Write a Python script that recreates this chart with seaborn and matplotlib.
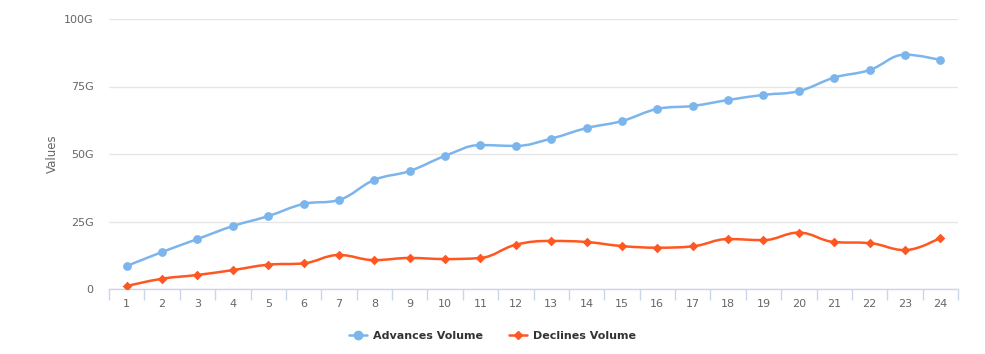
import numpy as np
import pandas as pd
import matplotlib
matplotlib.use("Agg")
import matplotlib.pyplot as plt
import seaborn as sns
from matplotlib.path import Path as MPath
from matplotlib.patches import PathPatch
from matplotlib.lines import Line2D
from matplotlib.ticker import FuncFormatter, FixedLocator

# === data (values in billions) ===
categories = [str(i) for i in range(1, 25)]
advances = [8.5, 13.7, 18.5, 23.3, 27.0, 31.5, 33.0, 40.4, 43.7, 49.3, 53.3, 53.0,
            55.7, 59.6, 62.2, 66.7, 67.8, 70.0, 71.9, 73.3, 78.3, 81.1, 86.8, 84.8]
declines = [1.1, 3.8, 5.2, 7.0, 9.0, 9.5, 12.6, 10.7, 11.5, 11.1, 11.5, 16.4,
            17.8, 17.4, 15.9, 15.3, 15.8, 18.5, 18.1, 20.9, 17.4, 17.0, 14.4, 19.0]
series_names = ["Advances Volume", "Declines Volume"]
colors = ["#7cb5ec", "#ff5722"]
y_ticks = [0, 25, 50, 75, 100]

df = pd.DataFrame({
    "pos": list(range(len(categories))) * 2,
    "value": advances + declines,
    "series": [series_names[0]] * len(advances) + [series_names[1]] * len(declines),
})


def spline_path(xs, ys, smoothing=1.5):
    # highcharts-style spline through the points
    n = len(xs)
    denom = smoothing + 1
    lc = [(x, y) for x, y in zip(xs, ys)]
    rc = [(x, y) for x, y in zip(xs, ys)]
    for i in range(1, n - 1):
        px, py = xs[i], ys[i]
        lx, ly = xs[i - 1], ys[i - 1]
        nx, ny = xs[i + 1], ys[i + 1]
        lcx = (smoothing * px + lx) / denom
        lcy = (smoothing * py + ly) / denom
        rcx = (smoothing * px + nx) / denom
        rcy = (smoothing * py + ny) / denom
        if rcx != lcx:
            corr = (rcy - lcy) * (rcx - px) / (rcx - lcx) + py - rcy
            lcy += corr
            rcy += corr
        if lcy > ly and lcy > py:
            lcy = max(ly, py); rcy = 2 * py - lcy
        elif lcy < ly and lcy < py:
            lcy = min(ly, py); rcy = 2 * py - lcy
        if rcy > ny and rcy > py:
            rcy = max(ny, py); lcy = 2 * py - rcy
        elif rcy < ny and rcy < py:
            rcy = min(ny, py); lcy = 2 * py - rcy
        lc[i] = (lcx, lcy)
        rc[i] = (rcx, rcy)
    verts = [(xs[0], ys[0])]
    codes = [MPath.MOVETO]
    for i in range(1, n):
        verts += [rc[i - 1], lc[i], (xs[i], ys[i])]
        codes += [MPath.CURVE4] * 3
    return MPath(verts, codes)


# === plot ===
sns.set_theme(style="white")
plt.rcParams["font.family"] = ["DejaVu Sans"]

fig = plt.figure(figsize=(9.85, 3.54), dpi=100)
ax = fig.add_axes([109 / 985, 65 / 354, 849 / 985, 270 / 354])

markers = {series_names[0]: "o", series_names[1]: "D"}
sizes = {series_names[0]: 40, series_names[1]: 24}
for name, col in zip(series_names, colors):
    sub = df[df["series"] == name]
    ax.add_patch(PathPatch(spline_path(sub["pos"].tolist(), sub["value"].tolist()),
                           facecolor="none", edgecolor=col, lw=1.8, zorder=3))
    sns.scatterplot(data=sub, x="pos", y="value", color=col, marker=markers[name],
                    s=sizes[name], linewidth=0, ax=ax, zorder=4, legend=False)

ax.set_xlim(-0.5, len(categories) - 0.5)
ax.set_ylim(0, 100)
ax.set_yticks(y_ticks)
ax.yaxis.set_major_formatter(FuncFormatter(lambda v, p: "0" if v == 0 else f"{v:.0f}G"))
ax.set_xticks(range(len(categories)))
ax.set_xticklabels(categories)
ax.xaxis.set_minor_locator(FixedLocator(np.arange(-0.5, len(categories), 1.0)))

ax.grid(axis="y", color="#e6e6e6", lw=1)
ax.set_axisbelow(True)
for s in ["top", "right", "left"]:
    ax.spines[s].set_visible(False)
ax.spines["bottom"].set_color("#ccd6eb")
ax.spines["bottom"].set_linewidth(1)

ax.tick_params(axis="x", which="major", bottom=True, length=0, pad=7, labelsize=8,
               labelcolor="#666666")
ax.tick_params(axis="x", which="minor", bottom=True, length=8, width=1,
               color="#ccd6eb", direction="out")
ax.tick_params(axis="y", left=False, length=0, pad=11, labelsize=8, labelcolor="#666666")

ax.set_xlabel("")
ax.set_ylabel("Values", color="#666666", fontsize=8.5, labelpad=4)

handles = [
    Line2D([], [], color=colors[0], lw=1.8, marker="o", markersize=6),
    Line2D([], [], color=colors[1], lw=1.8, marker="D", markersize=4.5),
]
leg = fig.legend(handles, series_names, loc="center", bbox_to_anchor=(0.5, 1 - 336 / 354),
                 ncol=2, frameon=False, handlelength=1.6, columnspacing=2.4,
                 handletextpad=0.5, prop={"weight": "bold", "size": 8})
for t in leg.get_texts():
    t.set_color("#333333")

fig.savefig("out.png", dpi=100)
